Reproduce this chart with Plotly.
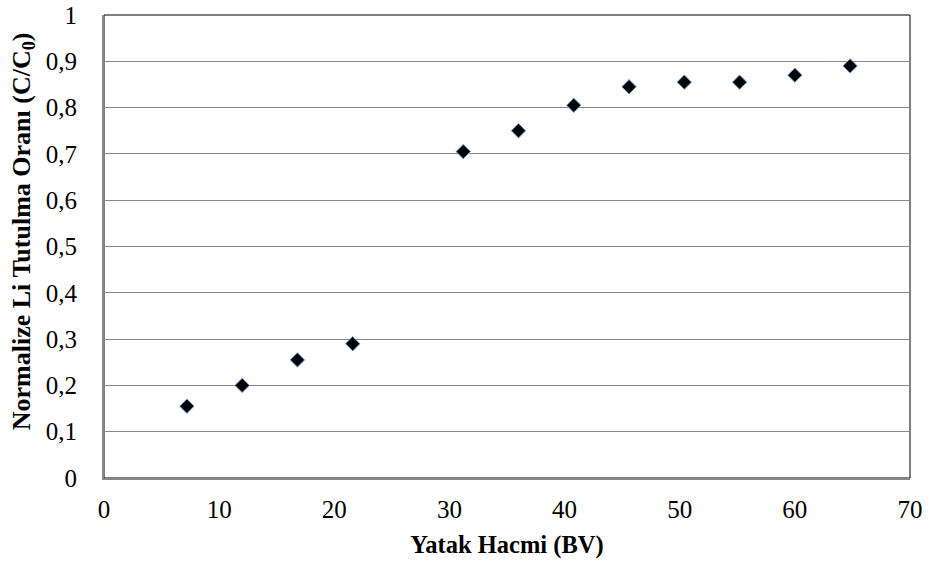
import plotly.graph_objects as go

# Bed volume (BV) and normalized Li retention ratio C/C0
bed_volume = [7.2, 12.0, 16.8, 21.6, 31.2, 36.0, 40.8, 45.6, 50.4, 55.2, 60.0, 64.8]
retention = [0.155, 0.200, 0.255, 0.290, 0.705, 0.750, 0.805, 0.845, 0.855, 0.855, 0.870, 0.890]

x_ticks = [0, 10, 20, 30, 40, 50, 60, 70]
y_ticks = [0, 0.1, 0.2, 0.3, 0.4, 0.5, 0.6, 0.7, 0.8, 0.9, 1.0]
y_tick_text = ["0", "0,1", "0,2", "0,3", "0,4", "0,5", "0,6", "0,7", "0,8", "0,9", "1"]

y_title = "<b>Normalize Li Tutulma Oranı (C/C<sub>0</sub>)</b>"
x_title = "<b>Yatak Hacmi (BV)</b>"

font_family = "'Liberation Serif', 'Times New Roman', 'DejaVu Serif', serif"

fig = go.Figure(
    go.Scatter(
        x=bed_volume,
        y=retention,
        mode="markers",
        marker=dict(symbol="diamond", size=11, color="black",
                    line=dict(color="#5b9bd5", width=1)),
        showlegend=False,
    )
)

fig.update_layout(
    width=929,
    height=566,
    margin=dict(l=104, r=19, t=15, b=88, autoexpand=False),
    paper_bgcolor="white",
    plot_bgcolor="white",
    font=dict(family=font_family, size=25, color="black"),
    shapes=[
        dict(type="rect", xref="paper", yref="paper", x0=0, y0=0, x1=1, y1=1,
             line=dict(color="black", width=1), layer="below"),
    ],
    annotations=[
        # vertical axis title, placed slightly above the plot centre
        dict(text=y_title, textangle=-90, showarrow=False,
             xref="paper", yref="paper", x=0, y=0.533,
             xanchor="center", yanchor="middle", xshift=-81,
             font=dict(family=font_family, size=26, color="black")),
    ],
)

fig.update_xaxes(
    range=[0, 70],
    tickvals=x_ticks,
    ticktext=[str(v) for v in x_ticks],
    showgrid=False,
    zeroline=False,
    showline=True,
    linecolor="#888888",
    linewidth=2,
    ticks="",
    automargin=False,
    ticklabelstandoff=8,
    tickfont=dict(family=font_family, size=25),
    title=dict(text=x_title, font=dict(family=font_family, size=24.5), standoff=14),
)

fig.update_yaxes(
    range=[0, 1],
    tickvals=y_ticks,
    ticktext=y_tick_text,
    showgrid=True,
    gridcolor="#888888",
    gridwidth=1,
    zeroline=False,
    showline=True,
    linecolor="#888888",
    linewidth=2,
    ticks="",
    automargin=False,
    ticklabelstandoff=20,
    tickfont=dict(family=font_family, size=25),
)

fig.write_html("out.html")
